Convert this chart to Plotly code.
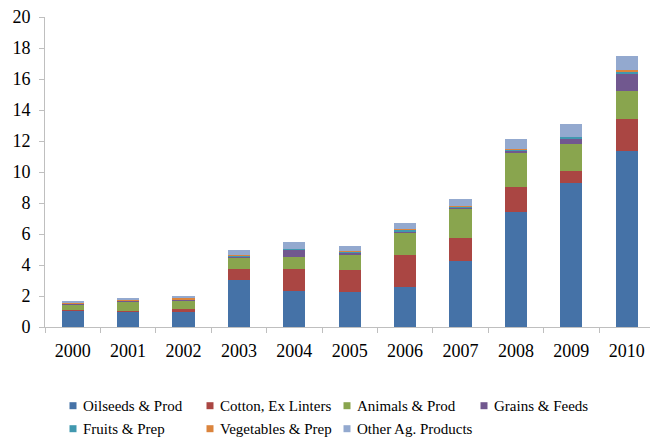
import plotly.graph_objects as go

years = ["2000", "2001", "2002", "2003", "2004", "2005", "2006", "2007", "2008", "2009", "2010"]

oilseeds = [1.05, 1.03, 0.99, 3.03, 2.32, 2.26, 2.56, 4.28, 7.42, 9.27, 11.35]
cotton = [0.02, 0.02, 0.15, 0.71, 1.42, 1.40, 2.09, 1.44, 1.63, 0.81, 2.07]
animals = [0.37, 0.58, 0.56, 0.76, 0.76, 1.01, 1.43, 1.91, 2.20, 1.73, 1.81]
grains = [0.05, 0.05, 0.07, 0.05, 0.50, 0.15, 0.11, 0.10, 0.12, 0.35, 1.07]
fruits = [0.03, 0.03, 0.03, 0.08, 0.04, 0.04, 0.10, 0.07, 0.11, 0.10, 0.20]
vegetables = [0.01, 0.01, 0.05, 0.02, 0.02, 0.02, 0.02, 0.02, 0.03, 0.03, 0.06]
other = [0.17, 0.18, 0.15, 0.32, 0.42, 0.35, 0.38, 0.46, 0.60, 0.79, 0.94]

series_names = ["Oilseeds & Prod", "Cotton, Ex Linters", "Animals & Prod", "Grains & Feeds",
                "Fruits & Prep", "Vegetables & Prep", "Other Ag. Products"]
series_values = [oilseeds, cotton, animals, grains, fruits, vegetables, other]
series_colors = ["#4572A7", "#AA4643", "#89A54E", "#71588F", "#4198AF", "#DB843D", "#93A9CF"]

y_ticks = [0, 2, 4, 6, 8, 10, 12, 14, 16, 18, 20]

W, H = 650, 438
M_L, M_R, M_T, M_B = 45, 0, 17, 111
PW, PH = W - M_L - M_R, H - M_T - M_B


def px_to_paper(px, py):
    return (px - M_L) / PW, (H - M_B - py) / PH


fig = go.Figure()
for name, vals, color in zip(series_names, series_values, series_colors):
    fig.add_trace(go.Bar(
        x=years, y=vals, name=name,
        marker=dict(color=color, line=dict(width=0)), width=0.4,
    ))

axis_color = "#BFBFBF"
font_family = "Liberation Serif"

# Two-row legend below the plot: swatch + label, four entries per row
col_x = [73, 210, 347, 484]
row_y = [405.7, 428.7]
swatch = 7
shapes, annotations = [], []
for i, (name, color) in enumerate(zip(series_names, series_colors)):
    cx, cy = col_x[i % 4], row_y[i // 4]
    x0, y0 = px_to_paper(cx - swatch / 2, cy + swatch / 2)
    x1, y1 = px_to_paper(cx + swatch / 2, cy - swatch / 2)
    shapes.append(dict(type="rect", xref="paper", yref="paper", x0=x0, y0=y0, x1=x1, y1=y1,
                       fillcolor=color, line=dict(width=0)))
    tx, ty = px_to_paper(cx + 8, cy)
    annotations.append(dict(xref="paper", yref="paper", x=tx, y=ty, text=name,
                            xanchor="left", yanchor="middle", showarrow=False,
                            font=dict(family=font_family, size=15, color="#000000")))

fig.update_layout(
    width=W, height=H,
    margin=dict(l=M_L, r=M_R, t=M_T, b=M_B),
    paper_bgcolor="white", plot_bgcolor="white",
    barmode="stack",
    font=dict(family=font_family, color="#000000", size=18),
    showlegend=False,
    shapes=shapes,
    annotations=annotations,
    xaxis=dict(
        type="category", range=[-0.5, 10.42],
        showline=True, linecolor=axis_color, linewidth=1,
        ticks="outside", tickson="boundaries", ticklen=5, tickcolor=axis_color,
        ticklabelstandoff=7,
        showgrid=False, zeroline=False,
        tickfont=dict(size=18, family=font_family, color="#000000"),
    ),
    yaxis=dict(
        range=[0, 20], tickvals=y_ticks,
        showline=True, linecolor=axis_color, linewidth=1,
        ticks="outside", ticklen=5, tickcolor=axis_color,
        ticklabelstandoff=5,
        showgrid=False, zeroline=False,
        tickfont=dict(size=18, family=font_family, color="#000000"),
    ),
)

fig.write_html("out.html")
